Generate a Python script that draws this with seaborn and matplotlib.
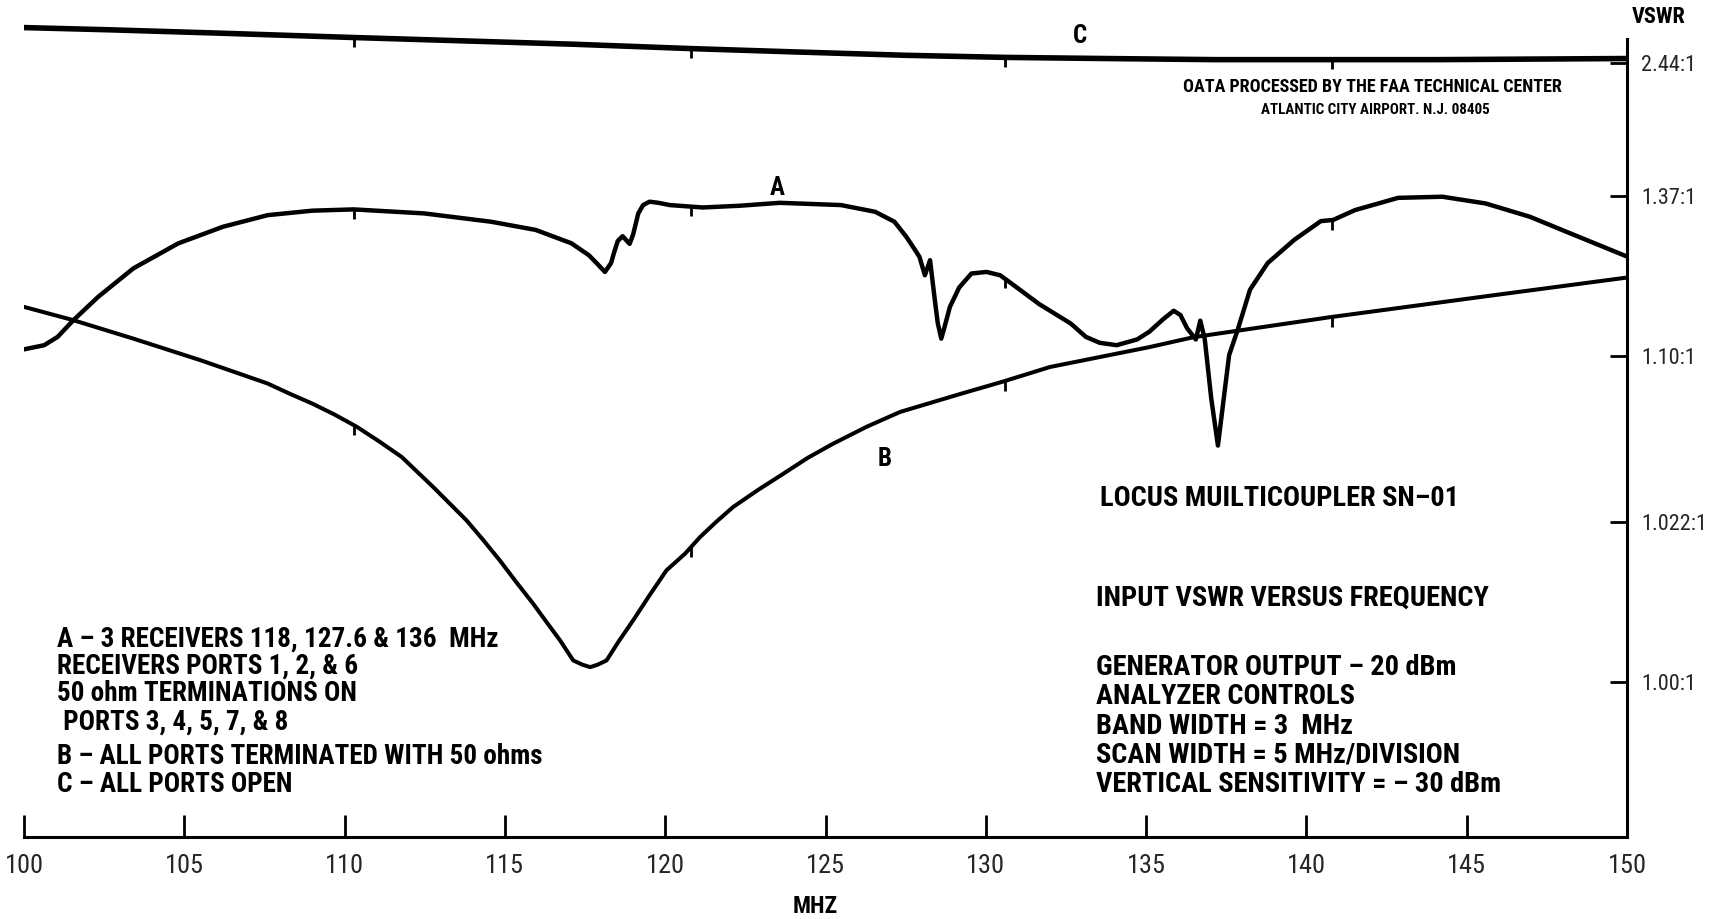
import numpy as np
import pandas as pd
import matplotlib
matplotlib.use("Agg")
import matplotlib.pyplot as plt
from matplotlib import font_manager
import seaborn as sns

# frequency (MHz) and vertical position on the chart (divisions above the 1.00:1 line)
freq_a = [100.0, 100.63, 101.05, 101.54, 102.31, 103.41, 104.81, 106.21, 107.60, 108.99,
          110.28, 112.48, 114.57, 115.96, 117.07, 117.62, 117.86, 118.12, 118.31, 118.41,
          118.52, 118.67, 118.89, 119.0, 119.16, 119.31, 119.51, 119.79, 120.14, 121.17,
          122.34, 123.57, 125.48, 126.55, 127.15, 127.52, 127.79, 127.93, 128.10, 128.26,
          128.41, 128.50, 128.61, 128.72, 128.88, 129.17, 129.55, 130.02, 130.45, 130.69,
          131.66, 132.65, 133.12, 133.55, 134.08, 134.72, 135.10, 135.52, 135.86, 136.07,
          136.28, 136.55, 136.69, 136.83, 137.03, 137.24, 137.38, 137.59, 137.86, 138.24,
          138.79, 139.62, 140.45, 140.83, 141.52, 142.86, 144.24, 145.59, 146.97, 148.31, 150.0]
level_a = [2.076, 2.102, 2.154, 2.258, 2.403, 2.581, 2.737, 2.841, 2.913, 2.941,
           2.949, 2.924, 2.872, 2.821, 2.738, 2.663, 2.614, 2.559, 2.614, 2.683,
           2.752, 2.782, 2.734, 2.793, 2.924, 2.976, 2.997, 2.990, 2.976, 2.961,
           2.972, 2.990, 2.976, 2.934, 2.872, 2.778, 2.697, 2.653, 2.538, 2.632,
           2.383, 2.241, 2.143, 2.221, 2.341, 2.462, 2.549, 2.559, 2.538, 2.503,
           2.359, 2.237, 2.154, 2.117, 2.102, 2.138, 2.186, 2.262, 2.317, 2.290,
           2.207, 2.138, 2.255, 2.138, 1.772, 1.476, 1.703, 2.041, 2.200, 2.448,
           2.614, 2.759, 2.876, 2.883, 2.945, 3.021, 3.028, 2.986, 2.903, 2.793, 2.655]

freq_b = [100.0, 101.54, 103.41, 105.51, 107.60, 108.28, 108.99, 109.69, 110.38, 111.07,
          111.78, 112.76, 113.80, 114.31, 114.84, 115.34, 115.88, 116.31, 116.72, 117.13,
          117.41, 117.66, 117.90, 118.17, 118.55, 119.0, 119.52, 120.04, 120.62, 121.09,
          121.59, 122.12, 122.90, 123.69, 124.45, 125.24, 126.28, 127.33, 129.24, 130.55,
          132.0, 135.10, 136.48, 140.71, 145.59, 150.0]
level_b = [2.341, 2.258, 2.143, 2.008, 1.863, 1.800, 1.738, 1.669, 1.593, 1.503,
           1.405, 1.218, 1.010, 0.890, 0.760, 0.628, 0.490, 0.372, 0.261, 0.136,
           0.110, 0.094, 0.110, 0.136, 0.255, 0.386, 0.545, 0.698, 0.802, 0.906,
           1.000, 1.093, 1.200, 1.301, 1.400, 1.488, 1.593, 1.686, 1.800, 1.876,
           1.966, 2.090, 2.152, 2.276, 2.407, 2.524]

freq_c = [100.0, 102.69, 106.14, 110.28, 113.72, 117.17, 120.79, 124.07, 127.52, 130.62,
          133.72, 137.17, 140.62, 144.07, 150.0]
level_c = [4.083, 4.069, 4.048, 4.021, 4.0, 3.979, 3.952, 3.931, 3.910, 3.897,
           3.890, 3.883, 3.883, 3.883, 3.890]

# frequency marker pips seen on the traces
pip_freqs = [110.3, 120.8, 130.6, 140.8]

x_ticks = [100, 105, 110, 115, 120, 125, 130, 135, 140, 145, 150]
vswr_pos = [0.0, 1.0, 2.034, 3.035, 3.862]
vswr_labels = ["1.00:1", "1.022:1", "1.10:1", "1.37:1", "2.44:1"]

legend_lines = ["A \u2013 3 RECEIVERS 118, 127.6 & 136  MHz",
                "RECEIVERS PORTS 1, 2, & 6",
                "50 ohm TERMINATIONS ON",
                " PORTS 3, 4, 5, 7, & 8",
                "B \u2013 ALL PORTS TERMINATED WITH 50 ohms",
                "C \u2013 ALL PORTS OPEN"]
legend_y = [0.269, 0.103, -0.069, -0.248, -0.462, -0.641]

info_lines = ["GENERATOR OUTPUT \u2013 20 dBm",
              "ANALYZER CONTROLS",
              "BAND WIDTH = 3  MHz",
              "SCAN WIDTH = 5 MHz/DIVISION",
              "VERTICAL SENSITIVITY = \u2013 30 dBm"]
info_y = [0.090, -0.090, -0.276, -0.455, -0.641]

sns.set_theme(style="white")
names = {f.name for f in font_manager.fontManager.ttflist}
fam = "DejaVu Sans"
for cand in ["Liberation Sans Narrow", "DejaVu Sans Condensed", "Roboto Condensed", "Liberation Sans"]:
    if cand in names:
        fam = cand
        break
plt.rcParams["font.family"] = [fam, "DejaVu Sans"]

fig = plt.figure(figsize=(17.33, 9.19), dpi=100)
ax = fig.add_axes([0.01385, 0.0892, 0.925, 0.9108])

curves = pd.concat([
    pd.DataFrame({"freq": freq_a, "level": level_a, "trace": "A"}),
    pd.DataFrame({"freq": freq_b, "level": level_b, "trace": "B"}),
    pd.DataFrame({"freq": freq_c, "level": level_c, "trace": "C"}),
])
sns.lineplot(data=curves, x="freq", y="level", hue="trace", size="trace",
             palette={"A": "black", "B": "black", "C": "black"},
             sizes={"A": 3.2, "B": 2.9, "C": 4.0}, sort=False, estimator=None,
             legend=False, ax=ax)
for ln in ax.lines:
    ln.set_solid_joinstyle("round")
    ln.set_solid_capstyle("round")

for fx, fy in [(freq_a, level_a), (freq_b, level_b), (freq_c, level_c)]:
    yy = np.interp(pip_freqs, fx, fy)
    ax.vlines(pip_freqs, yy - 0.06, yy, color="black", lw=2)

ax.set_xlim(100, 150)
ax.set_ylim(-0.9655, 4.255)
ax.set_xlabel("")
ax.set_ylabel("")

for s in ["left", "top"]:
    ax.spines[s].set_visible(False)
ax.spines["bottom"].set_color("black")
ax.spines["bottom"].set_linewidth(2.2)
ax.spines["right"].set_color("black")
ax.spines["right"].set_linewidth(2.2)
ax.spines["right"].set_bounds(-0.9655, 4.014)

ax.set_xticks(x_ticks)
ax.set_xticklabels([str(t) for t in x_ticks])
ax.tick_params(axis="x", direction="in", length=16, width=2, color="black",
               pad=12, labelsize=19, bottom=True)
ax.yaxis.tick_right()
ax.set_yticks(vswr_pos)
ax.set_yticklabels(vswr_labels)
ax.tick_params(axis="y", direction="in", length=12, width=2, color="black",
               pad=10, labelsize=16, right=True, left=False)

bold = dict(color="black", fontweight="bold")
ax.text(151.0, 4.152, "VSWR", ha="center", va="center", fontsize=16, clip_on=False, **bold)
ax.text(124.69, -1.40, "MHZ", ha="center", va="center", fontsize=17, clip_on=False, **bold)

ax.text(132.93, 4.028, "C", ha="center", va="center", fontsize=18, **bold)
ax.text(123.48, 3.083, "A", ha="center", va="center", fontsize=18, **bold)
ax.text(126.83, 1.393, "B", ha="center", va="center", fontsize=18, **bold)

ax.text(142.07, 3.710, "OATA PROCESSED BY THE FAA TECHNICAL CENTER",
        ha="center", va="center", fontsize=13, **bold)
ax.text(142.14, 3.572, "ATLANTIC CITY AIRPORT. N.J. 08405",
        ha="center", va="center", fontsize=10.8, **bold)

for line, yv in zip(legend_lines, legend_y):
    ax.text(101.03, yv, line, ha="left", va="center", fontsize=19.5, **bold)

ax.text(133.55, 1.145, "LOCUS MUILTICOUPLER SN\u201301", ha="left", va="center", fontsize=20.4, **bold)
ax.text(133.45, 0.524, "INPUT VSWR VERSUS FREQUENCY", ha="left", va="center", fontsize=20.4, **bold)
for line, yv in zip(info_lines, info_y):
    ax.text(133.45, yv, line, ha="left", va="center", fontsize=20.4, **bold)

fig.savefig("out.png", dpi=100, facecolor="white")
